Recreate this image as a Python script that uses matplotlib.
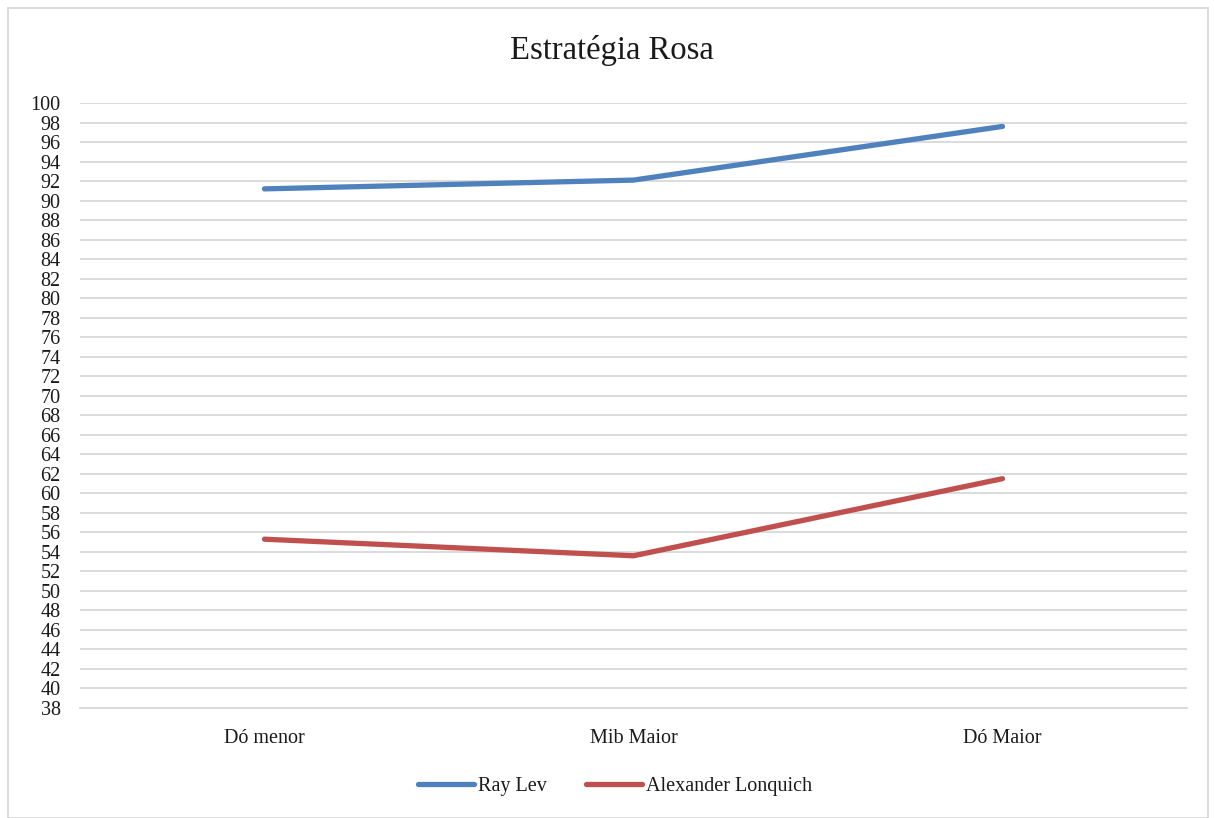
import matplotlib
matplotlib.use("Agg")
import matplotlib.pyplot as plt
from matplotlib.patches import Rectangle

categories = ["Dó menor", "Mib Maior", "Dó Maior"]
ray_lev = [91.2, 92.1, 97.6]
lonquich = [55.3, 53.6, 61.5]
series_names = ["Ray Lev", "Alexander Lonquich"]
y_ticks = list(range(38, 101, 2))

plt.rcParams['font.family'] = ['Liberation Serif', 'DejaVu Serif']

W, H = 1214, 818
fig = plt.figure(figsize=(W / 100, H / 100), dpi=100)
ax = fig.add_axes([80 / W, 1 - 708 / H, (1187 - 80) / W, (708 - 103) / H])

x = list(range(len(categories)))
ax.plot(x, ray_lev, color="#4F81BD", lw=3.8, solid_capstyle="round",
        solid_joinstyle="round", label=series_names[0], zorder=3)
ax.plot(x, lonquich, color="#C0504D", lw=3.8, solid_capstyle="round",
        solid_joinstyle="round", label=series_names[1], zorder=3)

ax.set_xlim(-0.5, len(categories) - 0.5)
ax.set_ylim(38, 100)
ax.set_yticks(y_ticks)
ax.set_xticks(x)
ax.set_xticklabels(categories, fontsize=14.5, color="#1a1a1a")
ax.tick_params(axis="y", labelsize=14.5, length=0, pad=14, labelcolor="#1a1a1a")
ax.tick_params(axis="x", length=0, pad=15)
ax.grid(axis="y", color="#d9d9d9", lw=1.3)
ax.set_axisbelow(True)
for side in ["top", "right", "left"]:
    ax.spines[side].set_visible(False)
ax.spines["bottom"].set_color("#d9d9d9")
ax.spines["bottom"].set_linewidth(1.3)

fig.text(612 / W, 1 - 51 / H, "Estratégia Rosa", ha="center", va="center",
         fontsize=23.5, color="#1a1a1a")

fig.legend(loc="center", bbox_to_anchor=(615 / W, 1 - 786 / H), ncol=2,
           frameon=False, fontsize=14.5, handlelength=2.8, handletextpad=0.2,
           columnspacing=1.9, labelcolor="#1a1a1a")

fig.patches.append(Rectangle((8 / W, 0), (1208 - 8) / W, 1 - 8 / H,
                             transform=fig.transFigure, fill=False,
                             edgecolor="#d9d9d9", lw=1.3))

fig.savefig("out.png", dpi=100)
